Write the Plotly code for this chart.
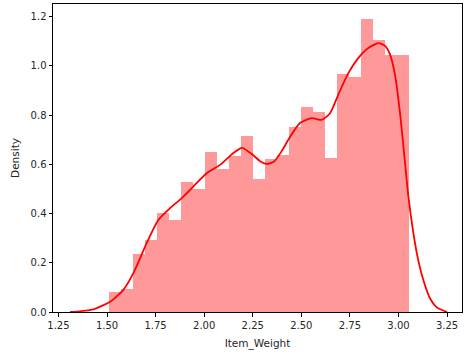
import numpy as np
import plotly.graph_objects as go

# Histogram (density)
bin_start = 1.510
bin_width = 0.0618
densities = [0.083, 0.092, 0.235, 0.292, 0.404, 0.374, 0.530, 0.500, 0.652, 0.580,
             0.635, 0.717, 0.541, 0.621, 0.639, 0.754, 0.835, 0.812, 0.628, 0.968,
             0.955, 1.191, 1.107, 1.046, 1.043]

# KDE curve
kde_x = [1.31, 1.37, 1.43, 1.516, 1.584, 1.635, 1.704, 1.764, 1.824, 1.885, 1.944,
         2.013, 2.082, 2.15, 2.195, 2.245, 2.29, 2.322, 2.36, 2.40, 2.433, 2.493,
         2.554, 2.605, 2.648, 2.69, 2.742, 2.793, 2.845, 2.896, 2.931, 2.955, 2.982,
         3.008, 3.034, 3.051, 3.077, 3.102, 3.128, 3.162, 3.197, 3.24, 3.25]
kde_y = [0.0, 0.004, 0.011, 0.042, 0.09, 0.157, 0.28, 0.374, 0.422, 0.463, 0.51,
         0.564, 0.598, 0.646, 0.667, 0.642, 0.612, 0.602, 0.612, 0.655, 0.70, 0.768,
         0.788, 0.781, 0.808, 0.883, 0.971, 1.032, 1.073, 1.093, 1.082, 1.05, 0.965,
         0.808, 0.604, 0.47, 0.32, 0.21, 0.13, 0.056, 0.019, 0.003, 0.0]

x_ticks = [1.25, 1.50, 1.75, 2.00, 2.25, 2.50, 2.75, 3.00, 3.25]
y_ticks = [0.0, 0.2, 0.4, 0.6, 0.8, 1.0, 1.2]

centers = bin_start + bin_width * (np.arange(len(densities)) + 0.5)

fig = go.Figure()
fig.add_trace(go.Bar(x=centers, y=densities, width=bin_width,
                     marker=dict(color="rgba(255,0,0,0.4)", line=dict(width=0)),
                     showlegend=False, hoverinfo="skip"))
fig.add_trace(go.Scatter(x=kde_x, y=kde_y, mode="lines",
                         line=dict(color="red", width=1.8, shape="spline", smoothing=0.6),
                         showlegend=False))

axis_common = dict(showline=True, linecolor="black", linewidth=1, mirror=True,
                   ticks="outside", ticklen=3.5, tickwidth=1, tickcolor="black",
                   showgrid=False, zeroline=False,
                   tickfont=dict(family="DejaVu Sans", size=10, color="#262626"))

fig.update_layout(
    width=465, height=354,
    margin=dict(l=53, r=3, t=4, b=42),
    plot_bgcolor="white", paper_bgcolor="white",
    bargap=0,
    font=dict(family="DejaVu Sans", size=10, color="#262626"),
    xaxis=dict(range=[1.222, 3.327], tickvals=x_ticks,
               ticktext=[f"{v:.2f}" for v in x_ticks],
               title=dict(text="Item_Weight", font=dict(size=10.5), standoff=10),
               **axis_common),
    yaxis=dict(range=[0, 1.252], tickvals=y_ticks,
               ticktext=[f"{v:.1f}" for v in y_ticks],
               title=dict(text="Density", font=dict(size=10.5), standoff=8),
               **axis_common),
)

fig.write_html("out.html")
